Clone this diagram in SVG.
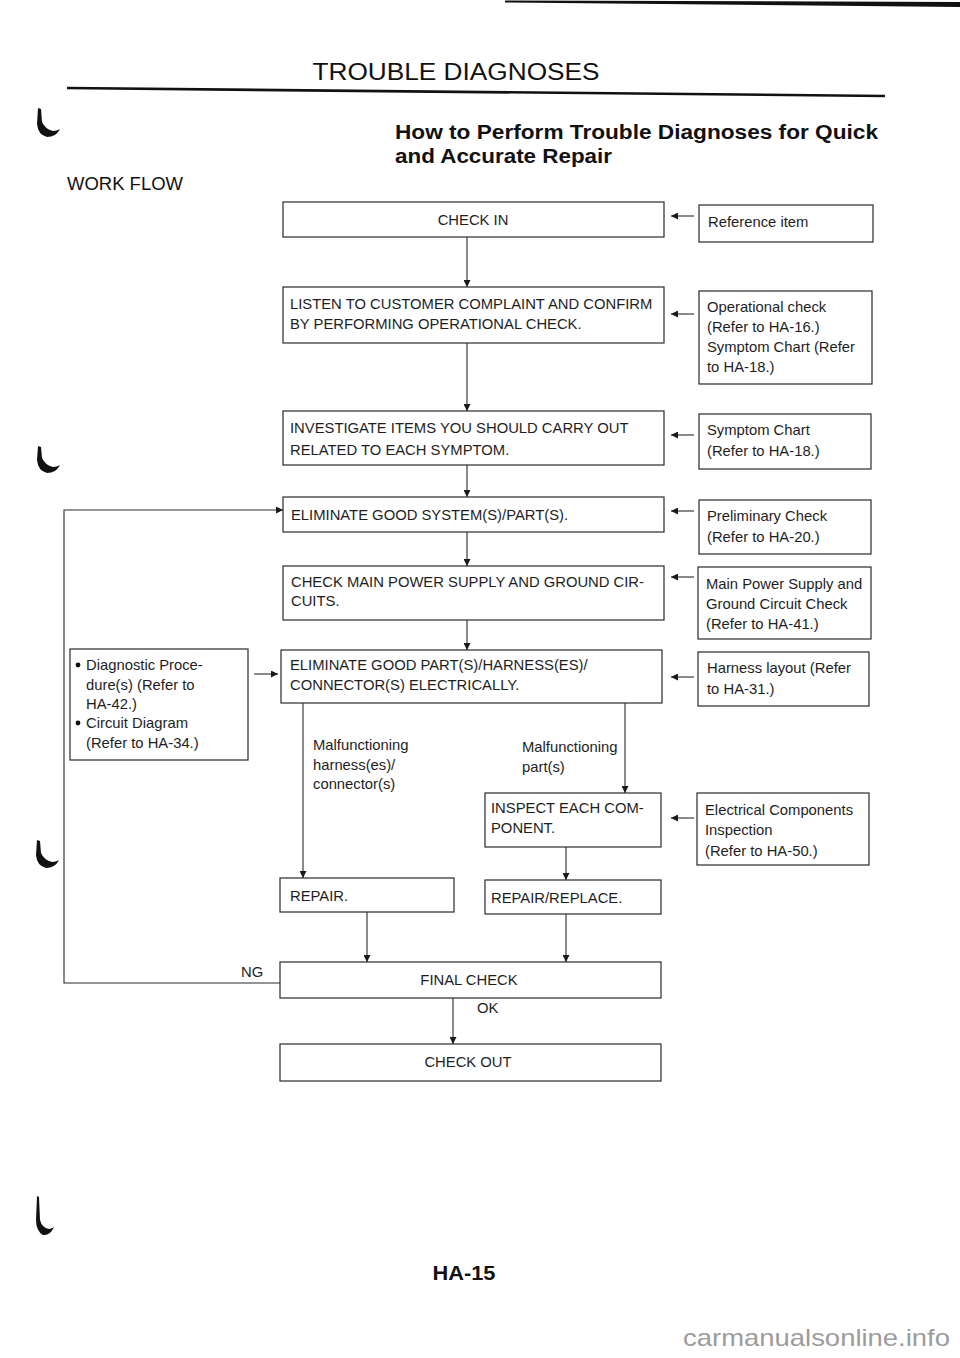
<svg xmlns="http://www.w3.org/2000/svg" width="960" height="1358" viewBox="0 0 960 1358">
<defs>
<style>
.bx{fill:none;stroke:#2a2a2a;stroke-width:1.2}
.ln{fill:none;stroke:#2a2a2a;stroke-width:1.1}
.t{font-family:"Liberation Sans",Arial,sans-serif;font-size:14.8px;fill:#1e1e1e}
.tc{font-family:"Liberation Sans",Arial,sans-serif;font-size:14.8px;fill:#1e1e1e;text-anchor:middle}
.h{font-family:"Liberation Sans",Arial,sans-serif;fill:#111}
.mk{fill:#111}
</style>
<marker id="ah" viewBox="0 0 10 10" refX="10" refY="5" markerWidth="8" markerHeight="7" markerUnits="userSpaceOnUse" orient="auto">
<path d="M0,0 L10,5 L0,10 Z" fill="#1a1a1a"/>
</marker>
</defs>
<rect width="960" height="1358" fill="#fff"/>

<g id="page-marks">
<polygon points="505,0.5 960,2 960,7 505,2.5" fill="#111"/>
<line x1="67" y1="88" x2="885" y2="96" stroke="#111" stroke-width="2.6"/>
<path class="mk" d="M38,108 L41,109 L42,122 Q45,129 53,131 Q57,131 60,129 Q56,137 47,137 Q38,135 37,124 Z"/>
<path class="mk" d="M38,446 L41,447 L42,458 Q45,465 53,467 Q57,467 60,465 Q56,473 47,473 Q38,471 37,460 Z"/>
<path class="mk" d="M37,840 L40,841 L41,853 Q44,860 52,862 Q56,862 59,860 Q55,868 46,868 Q37,866 36,855 Z"/>
<path class="mk" d="M37,1196 L39,1197 L40,1220 Q42,1228 49,1229 Q51,1229 54,1227 Q50,1236 43,1235 Q36,1231 36,1220 Z"/>
</g>

<g id="header">
<text class="h" x="456" y="80" font-size="23" text-anchor="middle" textLength="287" lengthAdjust="spacingAndGlyphs">TROUBLE DIAGNOSES</text>
<text class="h" x="395" y="139" font-size="20" font-weight="bold" textLength="483" lengthAdjust="spacingAndGlyphs">How to Perform Trouble Diagnoses for Quick</text>
<text class="h" x="395" y="163" font-size="20" font-weight="bold" textLength="217" lengthAdjust="spacingAndGlyphs">and Accurate Repair</text>
<text class="h" x="67" y="190" font-size="18" textLength="116" lengthAdjust="spacingAndGlyphs">WORK FLOW</text>
</g>

<g id="connectors">
<line class="ln" x1="467" y1="237" x2="467" y2="287" marker-end="url(#ah)"/>
<line class="ln" x1="467" y1="343" x2="467" y2="411" marker-end="url(#ah)"/>
<line class="ln" x1="467" y1="465" x2="467" y2="497" marker-end="url(#ah)"/>
<line class="ln" x1="467" y1="532" x2="467" y2="566" marker-end="url(#ah)"/>
<line class="ln" x1="467" y1="620" x2="467" y2="650" marker-end="url(#ah)"/>
<line class="ln" x1="303" y1="703" x2="303" y2="878" marker-end="url(#ah)"/>
<line class="ln" x1="625" y1="703" x2="625" y2="793" marker-end="url(#ah)"/>
<line class="ln" x1="566" y1="847" x2="566" y2="880" marker-end="url(#ah)"/>
<line class="ln" x1="367" y1="912" x2="367" y2="962" marker-end="url(#ah)"/>
<line class="ln" x1="566" y1="914" x2="566" y2="962" marker-end="url(#ah)"/>
<line class="ln" x1="453" y1="998" x2="453" y2="1044" marker-end="url(#ah)"/>
<polyline class="ln" points="280,983 64,983 64,510 283,510" marker-end="url(#ah)"/>
<line class="ln" x1="694" y1="216" x2="671" y2="216" marker-end="url(#ah)"/>
<line class="ln" x1="694" y1="314" x2="671" y2="314" marker-end="url(#ah)"/>
<line class="ln" x1="694" y1="435" x2="671" y2="435" marker-end="url(#ah)"/>
<line class="ln" x1="694" y1="511" x2="671" y2="511" marker-end="url(#ah)"/>
<line class="ln" x1="694" y1="577" x2="671" y2="577" marker-end="url(#ah)"/>
<line class="ln" x1="694" y1="677" x2="671" y2="677" marker-end="url(#ah)"/>
<line class="ln" x1="694" y1="818" x2="671" y2="818" marker-end="url(#ah)"/>
<line class="ln" x1="254" y1="674" x2="278" y2="674" marker-end="url(#ah)"/>
<text class="t" x="313" y="750">Malfunctioning</text>
<text class="t" x="313" y="770">harness(es)/</text>
<text class="t" x="313" y="789">connector(s)</text>
<text class="t" x="522" y="752">Malfunctioning</text>
<text class="t" x="522" y="772">part(s)</text>
<text class="t" x="241" y="977">NG</text>
<text class="t" x="477" y="1013">OK</text>
</g>

<g id="check-in">
<rect class="bx" x="283" y="202" width="381" height="35"/>
<text class="tc" x="473" y="225">CHECK IN</text>
</g>
<g id="reference-item">
<rect class="bx" x="699" y="205" width="174" height="37"/>
<text class="t" x="708" y="227">Reference item</text>
</g>

<g id="listen">
<rect class="bx" x="283" y="287" width="381" height="56"/>
<text class="t" x="290" y="309">LISTEN TO CUSTOMER COMPLAINT AND CONFIRM</text>
<text class="t" x="290" y="329">BY PERFORMING OPERATIONAL CHECK.</text>
</g>
<g id="operational-check">
<rect class="bx" x="699" y="291" width="173" height="93"/>
<text class="t" x="707" y="312">Operational check</text>
<text class="t" x="707" y="332">(Refer to HA-16.)</text>
<text class="t" x="707" y="352">Symptom Chart (Refer</text>
<text class="t" x="707" y="372">to HA-18.)</text>
</g>

<g id="investigate">
<rect class="bx" x="283" y="411" width="381" height="54"/>
<text class="t" x="290" y="433">INVESTIGATE ITEMS YOU SHOULD CARRY OUT</text>
<text class="t" x="290" y="455">RELATED TO EACH SYMPTOM.</text>
</g>
<g id="symptom-chart">
<rect class="bx" x="699" y="414" width="172" height="55"/>
<text class="t" x="707" y="435">Symptom Chart</text>
<text class="t" x="707" y="456">(Refer to HA-18.)</text>
</g>

<g id="eliminate-system">
<rect class="bx" x="283" y="497" width="381" height="35"/>
<text class="t" x="291" y="520">ELIMINATE GOOD SYSTEM(S)/PART(S).</text>
</g>
<g id="preliminary-check">
<rect class="bx" x="699" y="500" width="172" height="54"/>
<text class="t" x="707" y="521">Preliminary Check</text>
<text class="t" x="707" y="542">(Refer to HA-20.)</text>
</g>

<g id="check-main-power">
<rect class="bx" x="283" y="566" width="381" height="54"/>
<text class="t" x="291" y="587">CHECK MAIN POWER SUPPLY AND GROUND CIR-</text>
<text class="t" x="291" y="606">CUITS.</text>
</g>
<g id="main-power-check">
<rect class="bx" x="698" y="567" width="173" height="72"/>
<text class="t" x="706" y="589">Main Power Supply and</text>
<text class="t" x="706" y="609">Ground Circuit Check</text>
<text class="t" x="706" y="629">(Refer to HA-41.)</text>
</g>

<g id="diagnostic-procedures">
<rect class="bx" x="70" y="649" width="178" height="111"/>
<circle class="mk" cx="78" cy="665" r="2.4"/>
<text class="t" x="86" y="670">Diagnostic Proce-</text>
<text class="t" x="86" y="690">dure(s) (Refer to</text>
<text class="t" x="86" y="709">HA-42.)</text>
<circle class="mk" cx="78" cy="723" r="2.4"/>
<text class="t" x="86" y="728">Circuit Diagram</text>
<text class="t" x="86" y="748">(Refer to HA-34.)</text>
</g>

<g id="eliminate-parts">
<rect class="bx" x="281" y="650" width="381" height="53"/>
<text class="t" x="290" y="670">ELIMINATE GOOD PART(S)/HARNESS(ES)/</text>
<text class="t" x="290" y="690">CONNECTOR(S) ELECTRICALLY.</text>
</g>
<g id="harness-layout">
<rect class="bx" x="698" y="652" width="171" height="54"/>
<text class="t" x="707" y="673">Harness layout (Refer</text>
<text class="t" x="707" y="694">to HA-31.)</text>
</g>

<g id="inspect">
<rect class="bx" x="485" y="793" width="176" height="54"/>
<text class="t" x="491" y="813">INSPECT EACH COM-</text>
<text class="t" x="491" y="833">PONENT.</text>
</g>
<g id="electrical-components">
<rect class="bx" x="697" y="793" width="172" height="72"/>
<text class="t" x="705" y="815">Electrical Components</text>
<text class="t" x="705" y="835">Inspection</text>
<text class="t" x="705" y="856">(Refer to HA-50.)</text>
</g>

<g id="repair">
<rect class="bx" x="280" y="878" width="174" height="34"/>
<text class="t" x="290" y="901">REPAIR.</text>
</g>
<g id="repair-replace">
<rect class="bx" x="485" y="880" width="176" height="34"/>
<text class="t" x="491" y="903">REPAIR/REPLACE.</text>
</g>

<g id="final-check">
<rect class="bx" x="280" y="962" width="381" height="36"/>
<text class="tc" x="469" y="985">FINAL CHECK</text>
</g>
<g id="check-out">
<rect class="bx" x="280" y="1044" width="381" height="37"/>
<text class="tc" x="468" y="1067">CHECK OUT</text>
</g>

<g id="footer">
<text class="h" x="464" y="1280" font-size="21" font-weight="bold" text-anchor="middle" textLength="63" lengthAdjust="spacingAndGlyphs">HA-15</text>
<text x="950" y="1346" font-family="'Liberation Sans',Arial,sans-serif" font-size="24" fill="#9c9c9c" text-anchor="end" textLength="267" lengthAdjust="spacingAndGlyphs">carmanualsonline.info</text>
</g>
</svg>
